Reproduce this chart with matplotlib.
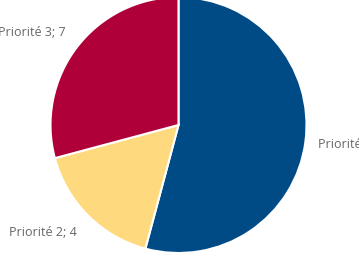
import matplotlib.pyplot as plt
from matplotlib.transforms import Bbox

categories = ['Priorité 1', 'Priorité 2', 'Priorité 3']
values = [13, 4, 7]
colors = ['#004A86', '#FFD97D', '#AF0039']

# label anchor positions in pixels (left edge, vertical centre)
label_px = [(318, 144), (9, 233), (-2, 33)]

W, H = 364, 257
cx, cy, r = 178.5, 125, 128

fig = plt.figure(figsize=(W / 100, H / 100), dpi=100)
ax = fig.add_axes([0, 0, 1, 1])

labels = ['%s; %d' % (c, v) for c, v in zip(categories, values)]
wedges, texts = ax.pie(values, colors=colors, labels=labels, startangle=90,
                       counterclock=False, radius=1.0,
                       wedgeprops=dict(edgecolor='white', linewidth=1.5),
                       textprops=dict(color='#666666', fontsize=9,
                                      family='Open Sans'))
for t, (px, py) in zip(texts, label_px):
    t.set_position(((px - cx) / r, (cy - py) / r))
    t.set_ha('left')
    t.set_va('center')

# the first label runs off the chart area, as in the original
texts[0].set_clip_box(Bbox.from_extents(0, 0, 359, H))
texts[0].set_clip_on(True)

ax.set_xlim(-cx / r, (W - cx) / r)
ax.set_ylim(-(H - cy) / r, cy / r)
ax.set_aspect('auto')
ax.axis('off')

fig.savefig('out.png', dpi=100)
